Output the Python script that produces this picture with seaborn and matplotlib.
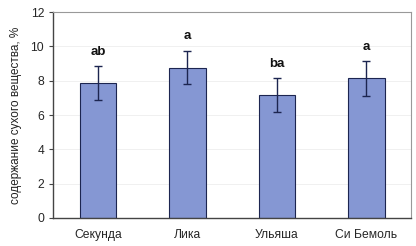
import pandas as pd
import matplotlib
matplotlib.use('Agg')
import matplotlib.pyplot as plt
import seaborn as sns

sns.set_style('white')
plt.rcParams['font.family'] = ['Liberation Sans', 'DejaVu Sans']

# данные
sorts = ['Секунда', 'Лика', 'Ульяша', 'Си Бемоль']
values = [7.85, 8.76, 7.16, 8.13]
errors = [1.0, 0.98, 0.98, 1.0]
letters = ['ab', 'a', 'ba', 'a']

df = pd.DataFrame({'sort': sorts, 'value': values})

fig = plt.figure(figsize=(4.16, 2.46), dpi=100)
ax = fig.add_axes([0.128, 0.114, 0.86, 0.837])

sns.barplot(data=df, x='sort', y='value', ax=ax, color='#8597D3',
            edgecolor='#1c2550', linewidth=0.8, width=0.41, saturation=1)
ax.errorbar(range(len(sorts)), values, yerr=errors, fmt='none',
            ecolor='#1c2550', elinewidth=1.0, capsize=3, capthick=1.0)

# буквы значимости
for i, (v, e, t) in enumerate(zip(values, errors, letters)):
    ax.text(i, v + e + 0.85, t, ha='center', va='center',
            fontsize=9.5, fontweight='bold', color='#111111')

ax.set_ylim(0, 12)
ax.set_xlim(-0.5, 3.5)
ax.set_yticks(range(0, 13, 2))
ax.yaxis.grid(True, color='#eeeeee', linewidth=0.6)
ax.set_axisbelow(True)

ax.set_xticks([0.5, 1.5, 2.5, 3.5], minor=True)
ax.tick_params(axis='x', which='major', length=0, labelsize=8.7, pad=8)
ax.tick_params(axis='x', which='minor', length=3, color='#444444', direction='out')
ax.tick_params(axis='y', length=3, labelsize=8.7, color='#444444', direction='out', left=True)

ax.set_xlabel('')
ax.set_ylabel('содержание сухого вещества, %', fontsize=8.5, color='#222222', labelpad=6)

for s in ['left', 'bottom']:
    ax.spines[s].set_color('#444444')
    ax.spines[s].set_linewidth(1.0)
for s in ['top', 'right']:
    ax.spines[s].set_color('#999999')
    ax.spines[s].set_linewidth(0.8)

fig.savefig('out.png', dpi=100)
